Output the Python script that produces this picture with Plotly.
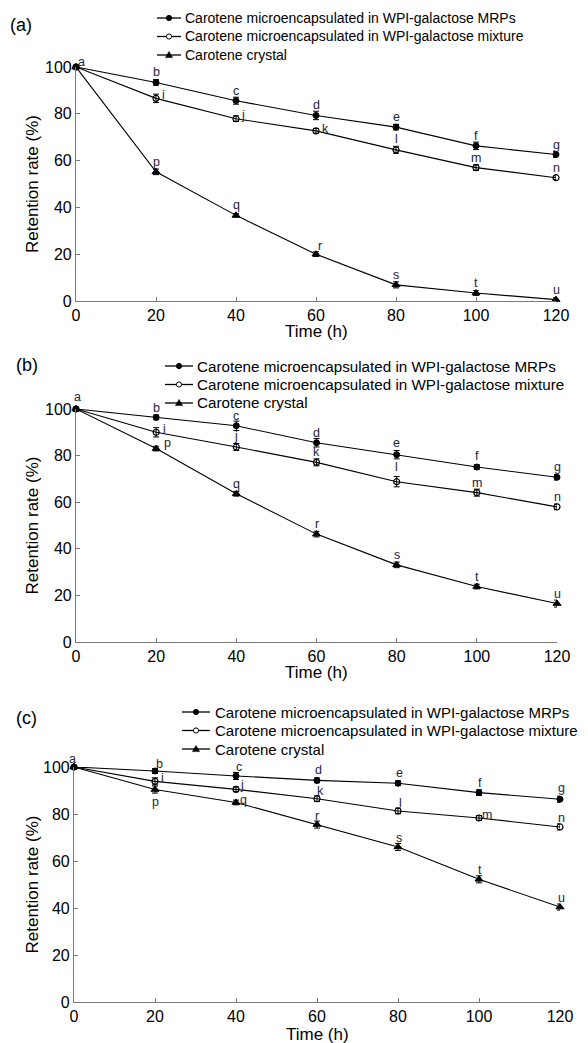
import plotly.graph_objects as go

# ---------------- data ----------------
time_h = [0, 20, 40, 60, 80, 100, 120]

series_names = [
    "Carotene microencapsulated in WPI-galactose MRPs",
    "Carotene microencapsulated in WPI-galactose mixture",
    "Carotene crystal",
]

# panel (a)
a_mrp = [100, 93.4, 85.6, 79.3, 74.3, 66.3, 62.6]
a_mix = [100, 86.6, 77.9, 72.7, 64.6, 57.0, 52.7]
a_cry = [100, 55.2, 36.6, 20.0, 6.9, 3.4, 0.6]
a_mrp_err = [0.8, 1.2, 1.5, 1.8, 1.2, 1.6, 1.3]
a_mix_err = [0.8, 1.8, 1.2, 1.0, 1.5, 1.2, 0.8]
a_cry_err = [0.8, 1.2, 0.8, 1.0, 1.3, 1.0, 0.8]

# panel (b)
b_mrp = [100, 96.4, 92.8, 85.5, 80.4, 75.1, 70.7]
b_mix = [100, 90.0, 83.7, 77.1, 68.8, 64.1, 58.0]
b_cry = [100, 83.0, 63.6, 46.3, 33.1, 23.8, 16.5]
b_mrp_err = [0.8, 1.0, 2.0, 1.8, 1.8, 1.0, 1.2]
b_mix_err = [0.8, 2.0, 1.5, 1.5, 2.2, 1.5, 1.2]
b_cry_err = [0.8, 1.0, 1.0, 1.2, 1.2, 1.0, 1.5]

# panel (c)
c_mrp = [100, 98.3, 96.2, 94.3, 93.1, 89.1, 86.3]
c_mix = [100, 93.9, 90.5, 86.5, 81.3, 78.3, 74.5]
c_cry = [100, 90.4, 84.9, 75.5, 66.0, 52.2, 40.4]
c_mrp_err = [0.8, 1.0, 1.5, 1.0, 1.0, 1.2, 1.3]
c_mix_err = [0.8, 1.5, 1.0, 1.2, 1.2, 1.0, 1.3]
c_cry_err = [0.8, 1.5, 1.0, 1.5, 1.5, 1.5, 1.3]

# significance letters (index 0 shared "a")
mrp_letters = ["a", "b", "c", "d", "e", "f", "g"]
mix_letters = ["", "i", "j", "k", "l", "m", "n"]
cry_letters = ["", "p", "q", "r", "s", "t", "u"]

panel_labels = ["(a)", "(b)", "(c)"]
x_ticks = [0, 20, 40, 60, 80, 100, 120]
y_ticks = [0, 20, 40, 60, 80, 100]
x_title = "Time (h)"
y_title = "Retention rate (%)"

# ---------------- layout geometry (window pixels) ----------------
W, H = 588, 1043
OFF = 8  # page body margin offsets the figure inside the window


def fx(px):
    return (px - OFF) / W


def fy(py):
    return 1 - (py - OFF) / H


panels = [
    dict(vals=(a_mrp, a_mix, a_cry), errs=(a_mrp_err, a_mix_err, a_cry_err),
         x0=76, x1=556, ytop=67, ybot=301, lab=(8, 25), xt_y=331,
         leg=dict(l0=157, l1=181, tx=183, rows=(18, 36.5, 55), fs=14),
         offs=(
             [(5, 5), (0, 10), (0, 10), (0, 10), (0, 10), (0, 10), (0, 10)],
             [(0, 0), (7, 3), (7, 4), (9, 2), (0, 11), (0, 10), (0, 10)],
             [(0, 0), (0, 10), (0, 10), (4, 8), (0, 10), (0, 10), (0, 10)],
         )),
    dict(vals=(b_mrp, b_mix, b_cry), errs=(b_mrp_err, b_mix_err, b_cry_err),
         x0=76, x1=557, ytop=409, ybot=642, lab=(14, 365), xt_y=672,
         leg=dict(l0=165, l1=193, tx=195, rows=(366, 384.5, 403), fs=15.2),
         offs=(
             [(1, 12), (0, 9), (0, 10), (0, 10), (0, 12), (0, 11), (0, 10)],
             [(0, 0), (8, 3), (0, 11), (0, 10), (0, 15), (0, 10), (0, 10)],
             [(0, 0), (11, 6), (0, 10), (0, 10), (0, 10), (0, 10), (0, 10)],
         )),
    dict(vals=(c_mrp, c_mix, c_cry), errs=(c_mrp_err, c_mix_err, c_cry_err),
         x0=74, x1=560, ytop=767, ybot=1002, lab=(14, 718), xt_y=1034,
         leg=dict(l0=182, l1=210, tx=213, rows=(712, 730.5, 749), fs=15.0),
         offs=(
             [(-2, 8), (4, 7), (3, 9), (1, 10), (1, 10), (1, 10), (1, 11)],
             [(0, 0), (7, 3), (6, 4), (3, 8), (2, 8), (8, 3), (1, 9)],
             [(0, 0), (0, -12), (7, 2), (0, 9), (1, 9), (1, 9), (1, 9)],
         )),
]

BLACK = "#000000"
AXIS_GREY = "#7a7a7a"
LETTER = "#1c2340"
FONT = "Liberation Sans, Arial, sans-serif"

markers = [
    dict(symbol="circle", size=6, color=BLACK, line=dict(color=BLACK, width=1)),
    dict(symbol="circle-open", size=6, color=BLACK, line=dict(color=BLACK, width=1.2)),
    dict(symbol="triangle-up", size=7, color=BLACK, line=dict(color=BLACK, width=1)),
]
letters_all = [mrp_letters, mix_letters, cry_letters]

fig = go.Figure()
annotations = []
shapes = []
layout = {}

for p, pan in enumerate(panels):
    sfx = "" if p == 0 else str(p + 1)
    xa, ya = "x" + sfx, "y" + sfx
    for s in range(3):
        fig.add_trace(go.Scatter(
            x=time_h, y=pan["vals"][s], name=series_names[s],
            mode="lines+markers", xaxis=xa, yaxis=ya,
            line=dict(color=BLACK, width=1.1), marker=markers[s],
            error_y=dict(type="data", array=pan["errs"][s], color=BLACK, thickness=1, width=3),
            cliponaxis=False, showlegend=False,
        ))
        for i, lt in enumerate(letters_all[s]):
            if not lt:
                continue
            dx, dy = pan["offs"][s][i]
            annotations.append(dict(
                x=time_h[i], y=pan["vals"][s][i], xref=xa, yref=ya, text=lt,
                showarrow=False, xshift=dx, yshift=dy,
                font=dict(family=FONT, size=12.5, color=LETTER),
            ))

        # legend key (line + marker) and label
        lg = pan["leg"]
        ry = lg["rows"][s]
        shapes.append(dict(type="line", xref="paper", yref="paper",
                           x0=fx(lg["l0"]), x1=fx(lg["l1"]), y0=fy(ry), y1=fy(ry),
                           line=dict(color=BLACK, width=1.3)))
        cx = (lg["l0"] + lg["l1"]) / 2
        if s == 2:
            path = "M {:.5f} {:.5f} L {:.5f} {:.5f} L {:.5f} {:.5f} Z".format(
                fx(cx - 3.6), fy(ry + 2.6), fx(cx + 3.6), fy(ry + 2.6), fx(cx), fy(ry - 3.6))
            shapes.append(dict(type="path", xref="paper", yref="paper", path=path,
                               fillcolor=BLACK, line=dict(color=BLACK, width=0.5)))
        else:
            shapes.append(dict(type="circle", xref="paper", yref="paper",
                               x0=fx(cx - 2.6), x1=fx(cx + 2.6), y0=fy(ry + 2.6), y1=fy(ry - 2.6),
                               fillcolor=BLACK if s == 0 else "white",
                               line=dict(color=BLACK, width=1)))
        annotations.append(dict(
            x=fx(lg["tx"]), y=fy(ry), xref="paper", yref="paper",
            text=series_names[s], showarrow=False, xanchor="left", yanchor="middle",
            font=dict(family=FONT, size=lg["fs"], color=BLACK),
        ))

    xdom = [fx(pan["x0"]), fx(pan["x1"])]
    ydom = [fy(pan["ybot"]), fy(pan["ytop"])]
    layout["xaxis" + sfx] = dict(
        domain=xdom, range=[0, 120], tickvals=x_ticks, ticks="inside", ticklen=4,
        tickcolor=AXIS_GREY, showline=True, linecolor=AXIS_GREY, linewidth=1.2,
        showgrid=False, zeroline=False, anchor=ya, automargin=False,
        tickfont=dict(family=FONT, size=16, color=BLACK), fixedrange=True,
    )
    layout["yaxis" + sfx] = dict(
        domain=ydom, range=[0, 100], tickvals=y_ticks, ticks="inside", ticklen=4,
        tickcolor=AXIS_GREY, showline=True, linecolor=AXIS_GREY, linewidth=1.2,
        showgrid=False, zeroline=False, anchor=xa, automargin=False,
        tickfont=dict(family=FONT, size=16, color=BLACK), fixedrange=True,
    )
    annotations.append(dict(
        x=fx(pan["lab"][0]), y=fy(pan["lab"][1]), xref="paper", yref="paper",
        text=panel_labels[p], showarrow=False, xanchor="left", yanchor="middle",
        font=dict(family=FONT, size=18, color=BLACK),
    ))
    annotations.append(dict(
        x=fx((pan["x0"] + pan["x1"]) / 2), y=fy(pan["xt_y"]), xref="paper", yref="paper",
        text=x_title, showarrow=False, xanchor="center", yanchor="middle",
        font=dict(family=FONT, size=17, color=BLACK),
    ))
    annotations.append(dict(
        x=fx(32), y=fy((pan["ytop"] + pan["ybot"]) / 2), xref="paper", yref="paper",
        text=y_title, showarrow=False, textangle=-90, xanchor="center", yanchor="middle",
        font=dict(family=FONT, size=17, color=BLACK),
    ))

fig.update_layout(
    width=W, height=H, margin=dict(l=0, r=0, t=0, b=0, autoexpand=False),
    paper_bgcolor="white", plot_bgcolor="white",
    font=dict(family=FONT, color=BLACK), showlegend=False,
    annotations=annotations, shapes=shapes, **layout,
)

fig.write_html("out.html")
